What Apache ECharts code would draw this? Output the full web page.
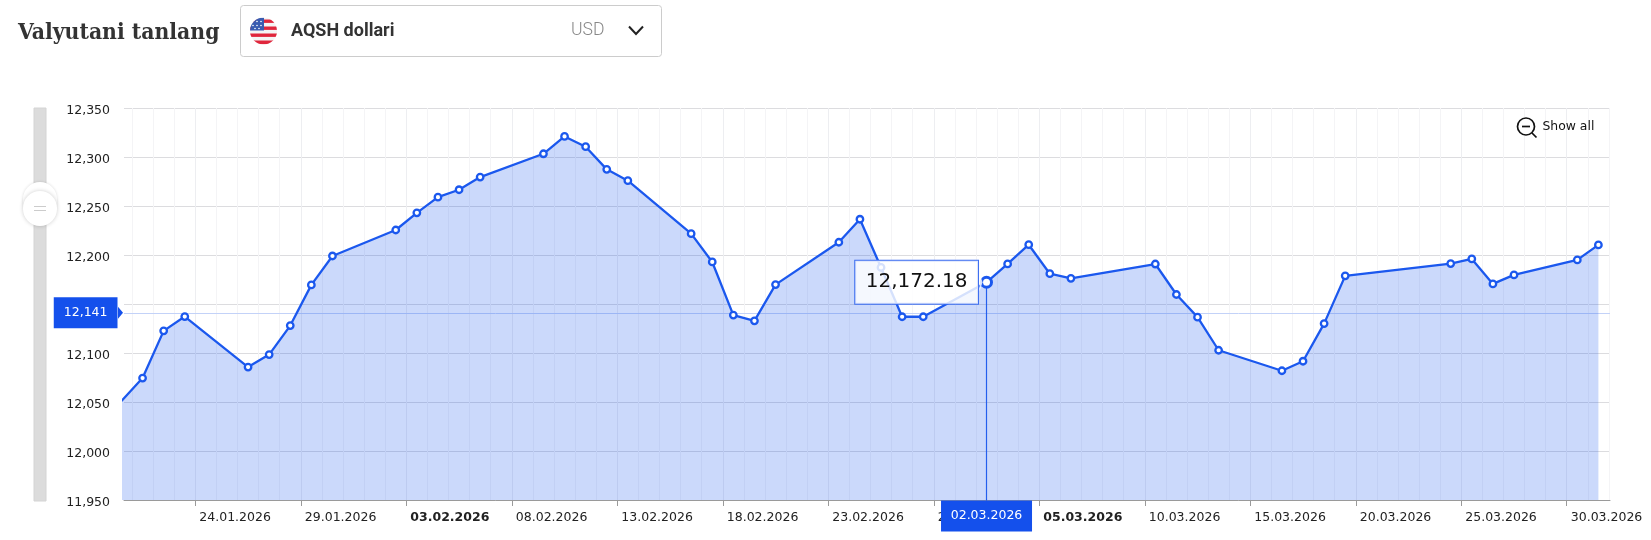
<!DOCTYPE html>
<html><head><meta charset="utf-8">
<style>html,body{margin:0;padding:0;background:#fff}#c{width:1651px;height:540px}</style>
<script src="https://cdn.jsdelivr.net/npm/echarts@6/dist/echarts.min.js"></script>
</head><body><div id="c"></div>
<script>
const dates = ['20.01.2026','21.01.2026','22.01.2026','23.01.2026','26.01.2026','27.01.2026','28.01.2026','29.01.2026','30.01.2026',
 '02.02.2026','03.02.2026','04.02.2026','05.02.2026','06.02.2026','09.02.2026','10.02.2026','11.02.2026','12.02.2026','13.02.2026',
 '16.02.2026','17.02.2026','18.02.2026','19.02.2026','20.02.2026','23.02.2026','24.02.2026','25.02.2026','26.02.2026','27.02.2026',
 '02.03.2026','03.03.2026','04.03.2026','05.03.2026','06.03.2026','10.03.2026','11.03.2026','12.03.2026','13.03.2026',
 '16.03.2026','17.03.2026','18.03.2026','19.03.2026','24.03.2026','25.03.2026','26.03.2026','27.03.2026','30.03.2026','31.03.2026'];
const rates = [12051,12074.4,12122.6,12137.2,12085.6,12098.4,12128,12169.5,12199,
 12225.5,12243,12259,12266.6,12279.5,12303.3,12321,12310.5,12287.4,12275.8,
 12221.8,12192.9,12138.7,12132.8,12169.8,12213,12236.5,12187.3,12137,12137,
 12172.18,12190.9,12210.5,12180.9,12176.2,12190.8,12159.7,12136.6,12102.8,
 12081.9,12091.6,12130,12178.7,12191.3,12196,12170.5,12179.7,12195,12210.3];
const tickLabels = ['24.01.2026','29.01.2026','03.02.2026','08.02.2026','13.02.2026','18.02.2026','23.02.2026','28.02.2026',
 '05.03.2026','10.03.2026','15.03.2026','20.03.2026','25.03.2026','30.03.2026'];
const boldLabels = ['03.02.2026','05.03.2026'];
const currentRate = 12141;
const selectedDate = '02.03.2026';
const selectedRate = 12172.18;

const BLUE = '#1450EC', LINE = '#1B58EE';
const DAY = 86400000;
const parse = s => { const [d,m,y] = s.split('.').map(Number); return new Date(y,m-1,d).getTime(); };
const fmtDate = t => { const d = new Date(t); const p = n => String(n).padStart(2,'0'); return p(d.getDate())+'.'+p(d.getMonth()+1)+'.'+d.getFullYear(); };
const fmtNum = (v,dp) => v.toLocaleString('en-US',{minimumFractionDigits:dp,maximumFractionDigits:dp});
const xMin = parse('24.01.2026') - 3.38*DAY, xMax = parse('24.01.2026') + 67.05*DAY;
const mid = s => parse(s) + DAY/2;
const dailyTicks = []; for (let t = parse('21.01.2026'); t <= parse('01.04.2026'); t += DAY) dailyTicks.push(t);
const majorTicks = tickLabels.map(parse);
const FONT = '"DejaVu Sans"';
const flagSvg = 'data:image/svg+xml;utf8,' + encodeURIComponent(
 '<svg xmlns="http://www.w3.org/2000/svg" width="54" height="54" viewBox="0 0 27 27"><defs><clipPath id="a"><circle cx="13.5" cy="13.5" r="13.5"/></clipPath></defs><g clip-path="url(#a)"><rect width="27" height="27" fill="#f4f4f4"/>'+
 '<rect y="2" width="27" height="3.4" fill="#e0263c"/><rect y="9" width="27" height="3.4" fill="#e0263c"/><rect y="16" width="27" height="3.4" fill="#e0263c"/><rect y="23" width="27" height="4" fill="#e0263c"/><rect width="14" height="13" fill="#3a5bb0"/>'+
 '<g fill="#fff"><circle cx="3" cy="4" r=".8"/><circle cx="7" cy="4" r=".8"/><circle cx="11" cy="4" r=".8"/><circle cx="3" cy="8" r=".8"/><circle cx="7" cy="8" r=".8"/><circle cx="11" cy="8" r=".8"/><circle cx="5" cy="11" r=".8"/><circle cx="9" cy="11" r=".8"/></g></g></svg>');

const staticGraphic = [
 {type:'text',left:18,top:22,style:{text:'Valyutani tanlang',font:'bold 22.7px "DejaVu Serif Condensed","DejaVu Serif",serif',fill:'#333'}},
 {type:'rect',shape:{x:240.5,y:5.5,width:421,height:51,r:3},style:{fill:'#fff',stroke:'#ccc',lineWidth:1}},
 {type:'image',style:{image:flagSvg,x:250,y:17.5,width:27,height:27}},
 {type:'text',left:291,top:22,style:{text:'AQSH dollari',font:'bold 18px Roboto',fill:'#333'}},
 {type:'text',left:571,top:22,style:{text:'USD',font:'300 17.6px Roboto',fill:'#888'}},
 {type:'polyline',shape:{points:[[629,26.5],[636,34],[643,26.5]]},style:{stroke:'#222',lineWidth:2,fill:null}},
 {type:'rect',shape:{x:34,y:108,width:12,height:393},style:{fill:'#dcdcdc',stroke:'#d4d4d4'}},
 {type:'rect',shape:{x:23,y:182,width:34,height:36,r:17},style:{fill:'#fff',shadowBlur:3,shadowColor:'rgba(0,0,0,.15)'}},
 {type:'rect',shape:{x:23,y:191,width:34,height:35,r:17},style:{fill:'#fff',shadowBlur:4,shadowColor:'rgba(0,0,0,.2)'}},
 {type:'line',shape:{x1:34,y1:206.5,x2:46,y2:206.5},style:{stroke:'#ccc',lineWidth:1}},
 {type:'line',shape:{x1:34,y1:210.5,x2:46,y2:210.5},style:{stroke:'#ccc',lineWidth:1}},
 {type:'circle',z:20,shape:{cx:1526,cy:126.5,r:8.5},style:{fill:'#fff',stroke:'#111',lineWidth:1.7}},
 {type:'line',z:20,shape:{x1:1522,y1:126.5,x2:1530,y2:126.5},style:{stroke:'#111',lineWidth:1.7}},
 {type:'line',z:20,shape:{x1:1532,y1:133,x2:1536.5,y2:137.5},style:{stroke:'#111',lineWidth:1.7}},
 {type:'text',z:20,left:1542.5,top:121,style:{text:'Show all',font:'12.4px '+FONT,fill:'#111'}}
];

const axisCommon = {type:'value',min:xMin,max:xMax,position:'bottom',scale:true};
const chart = echarts.init(document.getElementById('c'),null,{renderer:'canvas'});
chart.setOption({
 animation:false,
 grid:{left:124,right:41,top:108,bottom:40,containLabel:false},
 xAxis:[
  {...axisCommon,
   axisLine:{show:false},axisLabel:{show:false},
   axisTick:{show:false,customValues:dailyTicks},
   splitLine:{show:true,lineStyle:{color:'#f4f4f6',width:1}}},
  {...axisCommon,
   axisLine:{show:true,onZero:false,lineStyle:{color:'#9a9a9a',width:1}},
   axisTick:{show:true,length:6,customValues:majorTicks,lineStyle:{color:'#9a9a9a'}},
   splitLine:{show:true,lineStyle:{color:'#edeef1',width:1}},
   axisLabel:{show:true,customValues:majorTicks,align:'left',margin:11,hideOverlap:false,showMinLabel:true,showMaxLabel:true,
     color:'#222',fontFamily:FONT,fontSize:12.5,
     padding:[0,0,0,4],
     formatter:v=>{const s=fmtDate(v);return boldLabels.includes(s)?'{b|'+s+'}':s;},
     rich:{b:{fontWeight:'bold',color:'#222',fontFamily:FONT,fontSize:12.5}}}}
 ],
 yAxis:{type:'value',min:11950,max:12350,interval:50,
  axisLine:{show:false},axisTick:{show:false},
  axisLabel:{margin:14,verticalAlignMinLabel:'middle',verticalAlignMaxLabel:'middle',
   formatter:v=>'{n|'+fmtNum(v,0)+'}',
   rich:{n:{color:'#222',fontFamily:FONT,fontSize:12.5,padding:[5,0,0,0]}}},
  splitLine:{lineStyle:{color:'#dcdcdf',width:1.2}}},
 series:[{
  type:'line',xAxisIndex:0,z:5,
  data:dates.map((d,i)=>[mid(d),rates[i]]),
  clip:true,showSymbol:true,showAllSymbol:true,symbol:'circle',symbolSize:6.5,
  lineStyle:{color:LINE,width:2.3},
  itemStyle:{color:'#fff',borderColor:LINE,borderWidth:2.3},
  areaStyle:{color:'#1450EC',opacity:.22,origin:'start'},
  markLine:{silent:true,symbol:'none',animation:false,precision:2,
   data:[
    {yAxis:currentRate,lineStyle:{color:'#C3D2F8',width:1,type:'solid'},label:{show:false}},
    [{coord:[mid(selectedDate),selectedRate],symbol:'none',lineStyle:{color:'#2A63EE',width:1.2,type:'solid'},label:{show:false}},
     {coord:[mid(selectedDate),11950],symbol:'none'}]
   ]},
  markPoint:{silent:true,animation:false,z:30,
   data:[
    {coord:[xMin,currentRate],symbol:'rect',symbolSize:1,itemStyle:{color:'rgba(0,0,0,0)'},
     label:{show:true,position:'left',distance:6,formatter:()=>fmtNum(currentRate,0),color:'#fff',fontFamily:FONT,fontSize:12.5,
      backgroundColor:BLUE,padding:[8,10,8,10],lineHeight:15}},
    {coord:[mid(selectedDate),selectedRate],symbol:'circle',symbolSize:10,
     itemStyle:{color:'#fff',borderColor:LINE,borderWidth:3},
     label:{show:true,position:'left',distance:2,formatter:()=>fmtNum(selectedRate,2),color:'#111',fontFamily:FONT,fontSize:20,
      backgroundColor:'rgba(255,255,255,.82)',borderColor:'#3C6DF0',borderWidth:1,padding:[10,10.5,10,10.5],lineHeight:23}},
    {coord:[mid(selectedDate),11950],symbol:'rect',symbolSize:1,itemStyle:{color:BLUE},
     label:{show:true,position:'bottom',distance:0,formatter:()=>selectedDate,color:'#fff',fontFamily:FONT,fontSize:12.5,
      backgroundColor:BLUE,width:91,height:31,lineHeight:31,align:'center'}}
   ]}
 }],
 graphic:staticGraphic
});
const pRate = chart.convertToPixel({xAxisIndex:0,yAxisIndex:0},[mid(selectedDate),selectedRate]);
const pCur = chart.convertToPixel({xAxisIndex:0,yAxisIndex:0},[xMin,currentRate]);
chart.setOption({graphic:staticGraphic.concat([
 {type:'polygon',z:50,shape:{points:[[pCur[0]-6,pCur[1]-6],[pCur[0]-1,pCur[1]],[pCur[0]-6,pCur[1]+6]]},style:{fill:BLUE}},
 {type:'polygon',z:50,shape:{points:[[pRate[0]-7,pRate[1]-9],[pRate[0]-4,pRate[1]],[pRate[0]-7,pRate[1]+9]]},style:{fill:'rgba(255,255,255,.82)'}}
])});
</script></body></html>
